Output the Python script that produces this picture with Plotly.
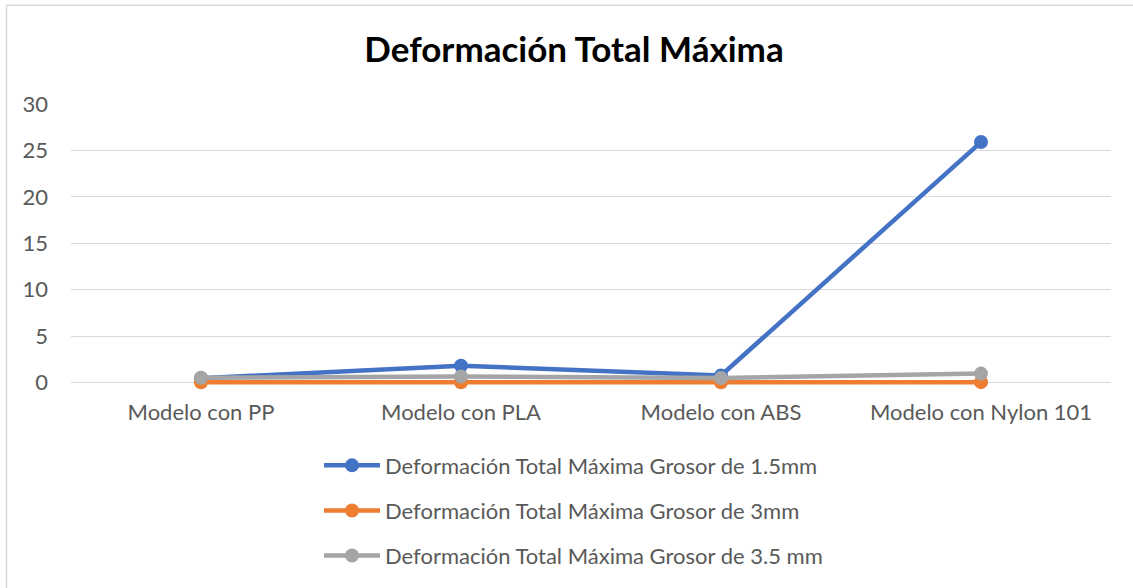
import plotly.graph_objects as go

categories = ["Modelo con PP", "Modelo con PLA", "Modelo con ABS", "Modelo con Nylon 101"]
s_15mm = [0.45, 1.8, 0.75, 25.9]
s_3mm = [0.02, 0.02, 0.02, 0.03]
s_35mm = [0.5, 0.65, 0.47, 0.95]
names = [
    "Deformación Total Máxima Grosor de 1.5mm",
    "Deformación Total Máxima Grosor de 3mm",
    "Deformación Total Máxima Grosor de 3.5 mm",
]
colors = ["#4472C4", "#ED7D31", "#A5A5A5"]
y_ticks = [0, 5, 10, 15, 20, 25, 30]

W, H = 1133, 588
L, R, T, B0 = 71, 1111, 104, 382  # B0 = pixel of y=0
ymin = -0.6
pxu = (B0 - T) / 30.0
B = B0 - ymin * pxu

fig = go.Figure()
for i, (vals, name, col) in enumerate(zip([s_15mm, s_3mm, s_35mm], names, colors)):
    fig.add_trace(go.Scatter(
        x=categories, y=vals, name=name, mode="lines+markers", legendgroup=f"g{i}",
        line=dict(color=col, width=4.5), cliponaxis=False,
        marker=dict(color=col, size=14),
    ))

def px_x(p):
    return (p - L) / (R - L)

def px_y(p):
    return (B - p) / (B - T)

shapes = [
    dict(type="line", xref="paper", yref="paper", x0=px_x(6.5), x1=px_x(6.5), y0=px_y(5.5), y1=px_y(H + 5),
         line=dict(color="#D9D9D9", width=1.5)),
    dict(type="line", xref="paper", yref="paper", x0=px_x(6), x1=px_x(W + 5), y0=px_y(5.5), y1=px_y(5.5),
         line=dict(color="#D9D9D9", width=1.5)),
]

font_fam = "Lato, Open Sans, sans-serif"
fig.update_layout(
    width=W, height=H,
    margin=dict(l=L, r=W - R, t=T, b=H - B, pad=0, autoexpand=False),
    paper_bgcolor="white", plot_bgcolor="white",
    title=dict(text="<b>Deformación Total Máxima</b>", x=px_x(574), xref="paper", xanchor="center",
               y=1 - 50 / H, yanchor="middle", font=dict(size=35, color="black", family=font_fam)),
    xaxis=dict(type="category", range=[-0.5, 3.5], showgrid=False, showline=False, zeroline=False,
               tickfont=dict(size=22, color="#595959", family=font_fam), ticks="", ticklen=0,
               ticklabelstandoff=9, automargin=False),
    yaxis=dict(range=[ymin, 30], tickvals=y_ticks, showgrid=True, gridcolor="#D9D9D9", gridwidth=1,
               zeroline=False, showline=False, ticks="", ticklabelstandoff=22, automargin=False,
               tickfont=dict(size=22, color="#595959", family=font_fam)),
    legend=dict(x=px_x(319), y=px_y(444), xanchor="left", yanchor="top", orientation="v",
                font=dict(size=22, color="#595959", family=font_fam), tracegroupgap=13.5,
                bgcolor="rgba(0,0,0,0)", itemwidth=56),
    shapes=shapes,
    showlegend=True,
)
fig.write_html("out.html", config={"displayModeBar": False},
               post_script="document.body.style.margin='0';document.body.style.overflow='hidden';")
